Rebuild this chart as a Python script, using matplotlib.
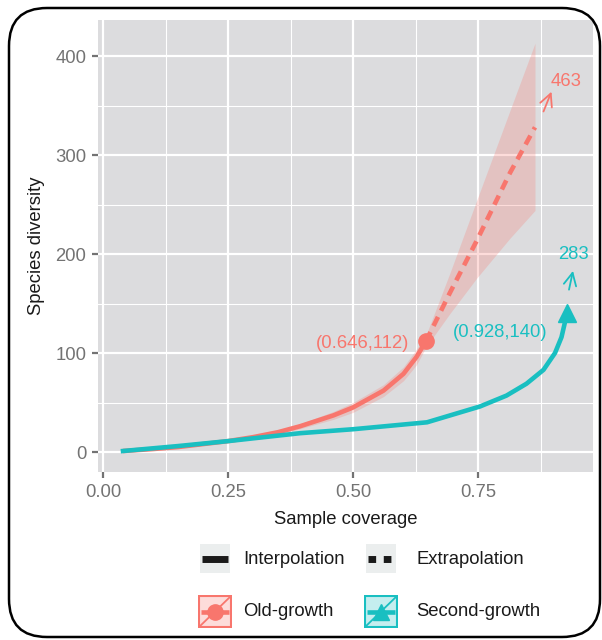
import numpy as np
import matplotlib.pyplot as plt
from matplotlib.patches import FancyBboxPatch, Rectangle

plt.rcParams['font.family'] = ['Liberation Sans', 'DejaVu Sans']

# data
red_x = [0.04, 0.10, 0.15, 0.20, 0.25, 0.30, 0.35, 0.394, 0.461, 0.50, 0.561, 0.601, 0.627, 0.646]
red_y = [1, 3, 5, 8, 11, 15, 20, 26, 37, 45, 62, 79, 96, 112]
red_lo = [0.5, 2.5, 4.5, 7, 10, 13.5, 18, 23.5, 33, 40, 56, 72, 88, 106]
red_hi = [1.5, 3.5, 5.5, 9, 12, 16.5, 22, 28.5, 41, 50, 68, 86, 104, 118]

red_ext_x = [0.646, 0.694, 0.748, 0.814, 0.864]
red_ext_y = [112, 161, 214, 282, 328]
red_ext_lo = [106, 140, 176, 216, 244]
red_ext_hi = [118, 181, 255, 345, 413]

teal_x = [0.04, 0.15, 0.25, 0.394, 0.5, 0.648, 0.754, 0.807, 0.847, 0.881, 0.904, 0.917, 0.928]
teal_y = [1, 6, 11, 19, 23, 30, 46, 57, 69, 83, 100, 116, 140]

ref_points = {"Old-growth": (0.646, 112), "Second-growth": (0.928, 140)}
arrow_red = [(0.881, 344), (0.897, 364)]
arrow_teal = [(0.932, 164), (0.940, 183)]
total_labels = ["463", "283"]

RED = "#F8766D"
TEAL = "#19BFC1"
GREY_TXT = "#737373"
FS = 13.3

fig = plt.figure(figsize=(6.02, 6.40), dpi=100)

# rounded frame around the whole chart
frame = FancyBboxPatch((0.09, 0.03), 5.91, 6.29,
                       boxstyle="round,pad=0,rounding_size=0.38",
                       transform=fig.dpi_scale_trans, fill=False,
                       edgecolor="black", linewidth=1.8, zorder=0)
fig.patches.append(frame)

ax = fig.add_axes([98 / 602, 1 - 472 / 640, 495 / 602, 452 / 640])
ax.set_facecolor("#DCDCDE")
for s in ax.spines.values():
    s.set_visible(False)

ax.set_xlim(-0.01, 0.98)
ax.set_ylim(-20.2, 436.4)
ax.set_xticks([0, 0.25, 0.5, 0.75])
ax.set_xticklabels(["0.00", "0.25", "0.50", "0.75"])
ax.set_yticks([0, 100, 200, 300, 400])
ax.set_xticks([0.125, 0.375, 0.625, 0.875], minor=True)
ax.set_yticks([50, 150, 250, 350], minor=True)
ax.grid(which="major", color="white", linewidth=1.6)
ax.grid(which="minor", color="white", linewidth=0.8)
ax.set_axisbelow(True)
ax.tick_params(which="major", length=4.5, width=1.6, color=GREY_TXT,
               labelcolor=GREY_TXT, labelsize=FS, pad=4)
ax.tick_params(which="minor", length=0)

ax.set_xlabel("Sample coverage", fontsize=FS, color="#1a1a1a", labelpad=7)
ax.set_ylabel("Species diversity", fontsize=FS, color="#1a1a1a", labelpad=7)

# confidence bands
ax.fill_between(red_x, red_lo, red_hi, color=RED, alpha=0.25, linewidth=0)
ax.fill_between(red_ext_x, red_ext_lo, red_ext_hi, color=RED, alpha=0.25, linewidth=0)

# curves
ax.plot(red_x, red_y, color=RED, linewidth=3.3, solid_capstyle="butt", zorder=3)
ax.plot(red_ext_x, red_ext_y, color=RED, linewidth=3.3, dashes=(2.2, 1.5), zorder=3)
ax.plot(teal_x, teal_y, color=TEAL, linewidth=3.3, zorder=4)

ax.plot(*ref_points["Old-growth"], marker="o", markersize=11, color=RED, zorder=5)
ax.plot(*ref_points["Second-growth"], marker="^", markersize=13, color=TEAL, zorder=5)

# point labels
ax.text(0.612, 110, "(0.646,112)", color=RED, fontsize=FS, ha="right", va="center")
ax.text(0.700, 121, "(0.928,140)", color=TEAL, fontsize=FS, ha="left", va="center")

# arrows to asymptotic estimates
for (p0, p1), col in [(arrow_red, RED), (arrow_teal, TEAL)]:
    ax.annotate("", xy=p1, xytext=p0,
                arrowprops=dict(arrowstyle="->,head_length=0.5,head_width=0.25",
                                color=col, linewidth=1.3, mutation_scale=18,
                                shrinkA=0, shrinkB=0))
ax.text(0.926, 374, total_labels[0], color=RED, fontsize=FS, ha="center", va="center")
ax.text(0.941, 200, total_labels[1], color=TEAL, fontsize=FS, ha="center", va="center")


# legend, drawn by hand in ggplot style
def key_axes(x0, y0, w, h):
    k = fig.add_axes([x0 / 602, 1 - (y0 + h) / 640, w / 602, h / 640])
    k.set_xlim(0, 1)
    k.set_ylim(0, 1)
    k.axis("off")
    return k


k = key_axes(200, 544, 30, 29)
k.add_patch(Rectangle((0, 0), 1, 1, color="#EBEEEE"))
k.plot([0.07, 0.93], [0.5, 0.5], color="#1a1a1a", linewidth=5, solid_capstyle="butt")
fig.text(243 / 602, 1 - 559 / 640, "Interpolation", fontsize=FS, color="#1a1a1a", va="center")

k = key_axes(366, 544, 30, 29)
k.add_patch(Rectangle((0, 0), 1, 1, color="#EBEEEE"))
k.plot([0.07, 0.93], [0.5, 0.5], color="#1a1a1a", linewidth=5, dashes=(1.1, 1.1),
       dash_capstyle="butt")
fig.text(416 / 602, 1 - 559 / 640, "Extrapolation", fontsize=FS, color="#1a1a1a", va="center")

for x0, tx, col, mk, ms, lab in [(198, 243, RED, "o", 11, "Old-growth"),
                                 (364, 416, TEAL, "^", 12, "Second-growth")]:
    k = key_axes(x0, 595, 34, 33)
    k.add_patch(Rectangle((0.02, 0.02), 0.96, 0.96, facecolor=col, alpha=0.25,
                          edgecolor="none"))
    k.add_patch(Rectangle((0.02, 0.02), 0.96, 0.96, facecolor="none",
                          edgecolor=col, linewidth=1.5))
    k.plot([0.02, 0.98], [0.02, 0.98], color=col, linewidth=1.3)
    k.plot([0.1, 0.9], [0.5, 0.5], color=col, linewidth=3.3, solid_capstyle="butt")
    k.plot(0.5, 0.5, marker=mk, markersize=ms, color=col)
    fig.text(tx / 602, 1 - 612 / 640, lab, fontsize=FS, color="#1a1a1a", va="center")

fig.savefig("out.png", dpi=100)
